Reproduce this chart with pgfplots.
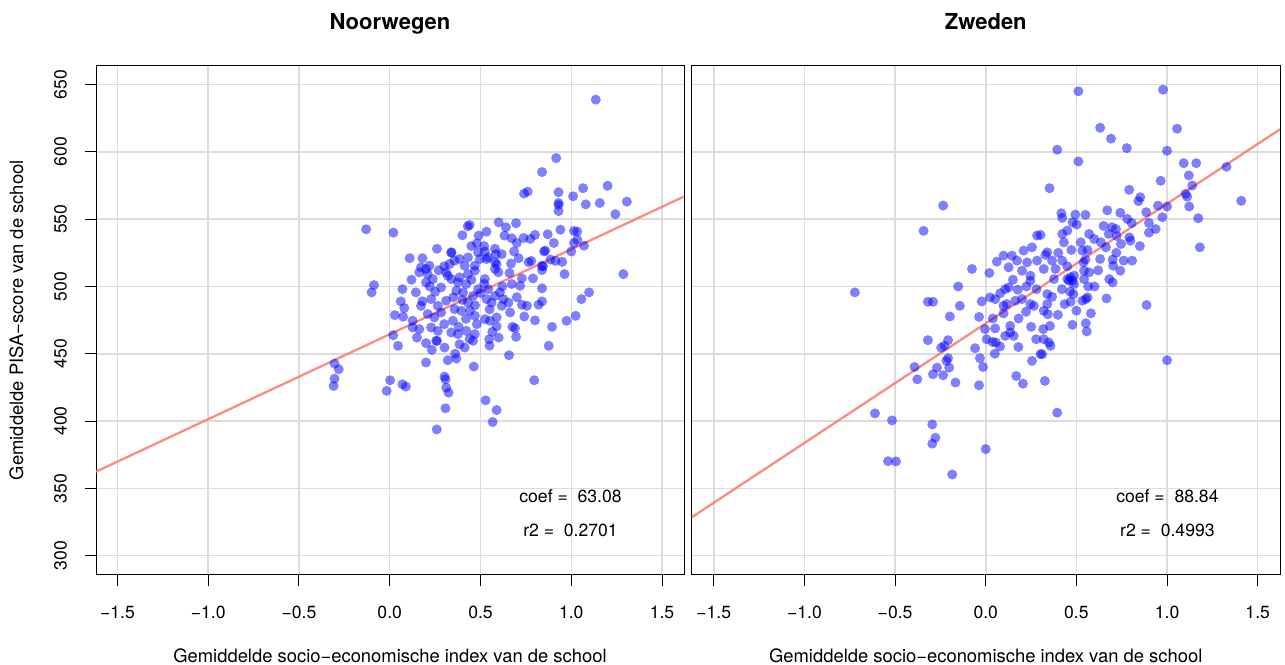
\documentclass[border=0pt]{standalone}
\usepackage{fontspec}
\setmainfont{TeX Gyre Heros}
\usepackage{pgfplots}
\pgfplotsset{compat=1.18}

\definecolor{gridgray}{RGB}{220,220,220}
\definecolor{fitline}{RGB}{250,128,114}

\pgfplotstableread{
x y
-0.13 542.5
0.02 540
0.44 545.7
0.43 544.7
0.11 521
0.18 521
0.34 525
0.49 537.8
0.48 532
1.135 638.8
0.917 595.4
0.839 585
0.74 569
0.76 570.5
0.93 570
0.93 562
0.93 560.6
0.93 556
1.01 567
1.065 573
1.08 561
1.157 562
1.20 574.8
1.306 563
1.243 553.7
0.60 547.7
0.64 544
0.696 547
0.533 540.7
0.632 537.8
0.672 535.8
0.70 532.3
0.737 536
0.774 535.3
0.80 538.3
0.87 538.8
0.94 542.2
1.015 541.3
1.033 540.8
0.904 532.3
1.033 534.8
1.07 530.3
1.015 532.3
0.857 526.6
0.85 526
0.685 526
0.617 524
0.585 524
0.524 526
0.533 520.4
0.58 518
0.589 516.5
0.71 521
0.78 519
0.844 515
0.885 520
0.95 518.3
1.0 526
0.668 517
0.543 521.6
0.765 518
0.839 515.4
0.913 519
0.963 509.2
1.287 509.2
0.839 512.2
0.789 506
0.728 506
0.839 498.6
1.098 495.6
1.056 490.6
0.839 488.9
0.82 486.4
0.728 486.4
0.756 485.6
1.024 478.2
0.974 474.5
0.80 474.8
0.741 477.7
0.663 480.7
0.894 470
0.676 470
0.69 469
0.696 462.6
0.589 470.3
0.565 466.3
0.548 460.8
0.876 455.9
0.657 448.9
0.796 430.3
0.528 415.4
0.589 408.2
0.567 399.3
0.524 505.5
0.543 498
0.533 490.6
0.561 488
0.58 493
0.607 495.6
0.617 485.6
0.654 488
0.524 475.7
0.552 474.5
0.589 477
0.598 510.5
0.58 513
0.672 501.8
0.718 500.5
0.626 490.6
-0.087 501
-0.1 495.6
0.07 498
0.061 488.9
0.028 478.7
0.074 477.5
0.144 495.6
0.172 485.6
0.126 474.5
0.163 468.3
0.126 469.5
0.019 463.8
0.046 455.9
-0.304 442.7
-0.281 438.5
-0.304 431.5
-0.309 426.1
0.002 430.3
-0.017 422.4
0.07 427.3
0.089 425.6
0.2 443.5
0.2 457.9
0.232 452.9
0.261 459.6
0.302 454.6
0.32 445.2
0.367 446.4
0.302 433
0.307 431
0.311 424.8
0.324 421.1
0.307 409.5
0.259 393.8
0.463 440.5
0.163 510.5
0.209 509.2
0.2 503
0.237 505.5
0.283 499.3
0.32 508
0.376 503
0.422 501.8
0.367 496.8
0.404 495.6
0.431 488
0.459 493
0.487 498
0.18 489
0.228 490.6
0.265 485.6
0.311 489.4
0.357 483.2
0.394 481.9
0.441 481.9
0.469 478.2
0.228 469.5
0.265 467
0.348 474.5
0.339 465.8
0.376 464.6
0.422 467
0.469 464.6
0.385 457.1
0.413 454.6
0.459 459.6
0.256 459.6
0.209 479.5
0.246 477
0.283 480.7
0.339 525.4
0.357 519.2
0.385 520.4
0.431 521.6
0.487 525.4
0.496 520.4
0.33 516.7
0.413 515.4
0.219 515.4
0.172 514.2
0.469 515.4
0.2 513
0.311 510.5
0.339 505.5
0.385 506.8
0.469 511.7
0.431 509.2
0.30 515
0.27 512
0.45 505
0.52 502
0.50 495
0.47 486
0.55 483
0.40 490
0.35 492
0.25 496
0.22 500
0.42 476
0.38 470
0.30 472
0.48 472
0.55 456
0.60 462
0.44 461
0.36 450
0.12 505
0.08 484
0.15 462
0.62 500
0.66 510
0.70 492
0.52 530
0.58 528
0.26 528
0.45 530
0.40 538
}\noorwegen

\pgfplotstableread{
x y
-0.235 560.1
-0.343 541.3
-0.076 513
0.02 510
0.061 518.4
0.098 522.9
0.144 522.9
0.126 514.2
0.172 519.2
0.209 526.6
0.255 529.1
0.228 517.9
0.2 511.7
0.246 508
0.283 537.8
0.283 519.2
0.511 645
0.978 646.2
0.631 617.9
0.691 609.8
1.055 617.2
0.778 602.8
0.394 601.6
1.0 600.8
0.511 592.9
1.092 591.6
1.161 591.6
1.328 588.9
1.12 582.5
1.139 575
0.965 578.5
0.352 573
0.791 571.8
1.409 563.6
1.102 568.8
1.111 566.7
0.852 566.3
0.842 563.4
1.122 559.4
1.0 559.4
0.974 551.4
1.172 550.7
1.181 529.1
0.885 555.2
0.9 547.2
0.937 542.7
0.67 556.6
0.742 554.7
0.78 550.2
0.805 547.2
0.55 553.2
0.494 553.4
0.417 554.4
0.422 550.9
0.479 547.7
0.502 546
0.45 541.5
0.422 539
0.431 532.8
0.302 538.3
0.57 539
0.598 535.3
0.635 532.8
0.663 529.1
0.696 544
0.718 542.7
0.678 539
0.722 537.5
0.746 531.6
0.792 536.5
0.798 534
0.339 525.4
0.329 523.4
0.366 519.2
0.422 519.2
0.472 527.1
0.524 532.8
0.533 526.6
0.561 527.1
0.539 517.9
0.542 511.7
0.57 510.5
0.32 513
0.385 513
0.487 508
0.468 506.8
0.681 505.5
0.742 511.7
0.761 519.2
0.807 519.2
0.631 520.4
0.703 515.4
-0.722 495.6
-0.152 500
-0.319 488.6
-0.291 488.6
-0.143 485.6
-0.198 477.7
-0.319 460.1
-0.208 460.1
-0.246 454.6
-0.228 456
-0.208 446.7
-0.217 444.7
-0.202 439.7
-0.393 440.2
-0.378 431
-0.269 439.7
-0.291 434.8
-0.235 434
-0.167 428.6
-0.611 405.7
-0.517 400.5
-0.295 397.5
-0.278 387.6
-0.295 383.2
-0.539 370.2
-0.495 370
-0.185 360.3
0.0 379.2
-0.059 454.1
-0.032 446.7
-0.015 440.2
-0.037 426.6
-0.022 488.9
-0.037 477.4
-0.004 468.3
0.005 460.8
0.024 491.9
0.052 490.6
0.039 476.2
0.052 468.8
0.037 458.8
0.055 458.4
0.079 455.4
0.107 498
0.126 499.3
0.176 497.6
0.224 500
0.246 504.2
0.098 485.6
0.116 486.9
0.163 489.4
0.2 490.6
0.246 486.9
0.265 485.6
0.098 480
0.135 470.7
0.181 476.2
0.222 481.2
0.107 463.3
0.154 463.3
0.135 465.8
0.278 460.8
0.255 444.7
0.302 449.7
0.168 433.5
0.205 427.8
0.887 486.2
1.0 445.2
0.326 429.8
0.394 406.2
0.70 503
0.666 491.1
0.565 500
0.533 489.4
0.552 490.6
0.561 491.9
0.465 496.1
0.483 494.3
0.487 501.8
0.459 504.3
0.435 486.9
0.468 488.6
0.339 494.3
0.366 492.3
0.339 486.9
0.398 478.9
0.32 481.9
0.342 479.4
0.478 471.5
0.552 472.7
0.557 466.6
0.354 470.7
0.317 468.3
0.32 460.8
0.348 458.4
0.357 455.9
0.311 449.7
0.376 505.5
0.45 505.5
0.478 504.3
0.542 505.5
0.45 515
0.55 520
0.62 512
0.60 500
0.72 525
0.65 545
0.85 530
0.90 540
0.40 525
0.28 498
0.15 505
0.08 495
0.42 498
0.50 482
0.25 470
0.18 455
0.05 450
0.70 520
0.58 480
0.95 560
}\zweden

\pgfplotsset{
  panel/.style={
    scale only axis,
    width=294pt, height=254.25pt,
    anchor=south west,
    xmin=-1.618, xmax=1.621,
    ymin=286, ymax=663.8,
    xtick={-1.5,-1,-0.5,0,0.5,1,1.5},
    xticklabels={−1.5,−1.0,−0.5,0.0,0.5,1.0,1.5},
    ytick={300,350,400,450,500,550,600,650},
    yticklabels={300,350,400,450,500,550,600,650},
    grid=major,
    grid style={color=gridgray, line width=0.75pt},
    axis line style={line width=0.5pt},
    tick align=outside,
    xtick pos=bottom, ytick pos=left,
    major tick length=5.5pt,
    tick style={black, line width=0.5pt},
    ticklabel style={font=\fontsize{8.8}{10}\selectfont},
    xticklabel style={yshift=-6.5pt},
    yticklabel style={rotate=90, anchor=south, yshift=5.5pt},
    label style={font=\fontsize{9.2}{11}\selectfont},
    xlabel style={yshift=-8.3pt},
    title style={font=\bfseries\fontsize{11}{13}\selectfont,
      at={(0.5,1)}, anchor=base, yshift=12.4pt},
  },
  pts/.style={only marks, mark=*, mark size=2.5pt, color=blue,
    mark options={solid, fill=blue, draw opacity=0, fill opacity=0.5}},
  fit/.style={no marks, color=fitline, line width=1.15pt, opacity=0.9},
}

\begin{document}
\begin{tikzpicture}
\begin{axis}[panel, at={(48pt,44.75pt)},
  title={Noorwegen},
  xlabel={Gemiddelde socio−economische index van de school},
  ylabel={Gemiddelde PISA−score van de school},
  ylabel style={yshift=8.5pt}]
  \addplot[pts] table[x=x, y=y] {\noorwegen};
  \addplot[fit] coordinates {(-1.618,362.4) (1.621,566.8)};
  \node[font=\fontsize{8.8}{10}\selectfont] at (axis cs:0.996,344.4) {coef = \ 63.08};
  \node[font=\fontsize{8.8}{10}\selectfont] at (axis cs:0.996,319.1) {r2 = \ 0.2701};
\end{axis}
\begin{axis}[panel, at={(345.75pt,44.75pt)}, width=294.25pt,
  xmin=-1.623, xmax=1.623,
  yticklabels={},
  ytick style={draw=none},
  title={Zweden},
  xlabel={Gemiddelde socio−economische index van de school}]
  \addplot[pts] table[x=x, y=y] {\zweden};
  \addplot[fit] coordinates {(-1.623,328.4) (1.623,616.8)};
  \node[font=\fontsize{8.8}{10}\selectfont] at (axis cs:1.002,344.4) {coef = \ 88.84};
  \node[font=\fontsize{8.8}{10}\selectfont] at (axis cs:1.002,319.1) {r2 = \ 0.4993};
\end{axis}
\pgfresetboundingbox
\useasboundingbox (0,0) rectangle (642.5pt,332pt);
\end{tikzpicture}
\end{document}
